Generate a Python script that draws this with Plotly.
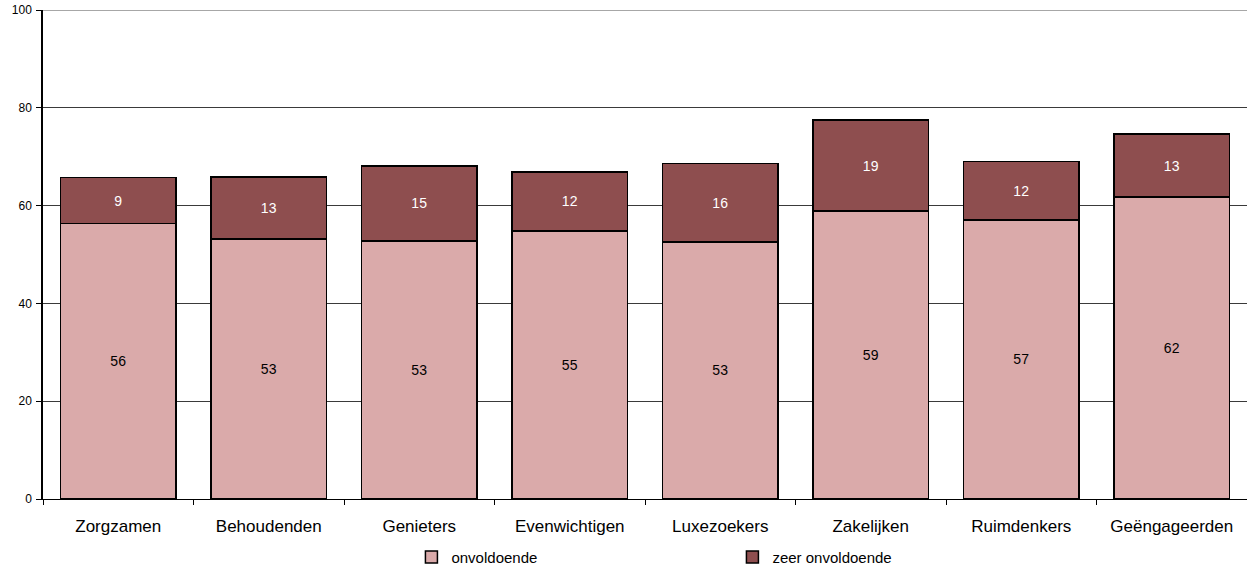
import plotly.graph_objects as go

# Segment names and their shares per group (percent)
groups = ["Zorgzamen", "Behoudenden", "Genieters", "Evenwichtigen",
          "Luxezoekers", "Zakelijken", "Ruimdenkers", "Geëngageerden"]
onvoldoende = [56.3, 53.2, 52.8, 54.8, 52.6, 58.9, 57.1, 61.8]
zeer_onvoldoende = [9.4, 12.6, 15.3, 12.1, 16.0, 18.6, 11.9, 12.8]
y_ticks = [0, 20, 40, 60, 80, 100]

FONT = "Liberation Sans, Arial, sans-serif"

fig = go.Figure()
fig.add_trace(go.Bar(
    name="onvoldoende", x=groups, y=onvoldoende,
    marker=dict(color="#DAAAAA", line=dict(color="#000000", width=1.5)),
    text=onvoldoende, texttemplate="%{text:.0f}",
    textposition="inside", insidetextanchor="middle",
    textfont=dict(family=FONT, size=14, color="#000000"),
    cliponaxis=False,
))
fig.add_trace(go.Bar(
    name="zeer onvoldoende", x=groups, y=zeer_onvoldoende,
    marker=dict(color="#8E4E4F", line=dict(color="#000000", width=1.5)),
    text=zeer_onvoldoende, texttemplate="%{text:.0f}",
    textposition="inside", insidetextanchor="middle",
    textfont=dict(family=FONT, size=14, color="#FFFFFF"),
    cliponaxis=False,
))

# top border line of the value range
fig.add_shape(type="line", xref="paper", yref="y", x0=0, x1=1, y0=100, y1=100,
              line=dict(color="#8A8A8A", width=1.5), layer="below")

fig.update_layout(
    barmode="stack",
    bargap=0.23,
    width=1247, height=569,
    margin=dict(l=43, r=0, t=10, b=70, autoexpand=False),
    paper_bgcolor="#FFFFFF", plot_bgcolor="#FFFFFF",
    font=dict(family=FONT, size=13, color="#000000"),
    showlegend=True,
    legend=dict(
        orientation="h", x=0.306, xanchor="left", y=-0.119, yanchor="middle",
        font=dict(family=FONT, size=15, color="#000000"),
        entrywidth=276, entrywidthmode="pixels",
        traceorder="normal", bgcolor="rgba(0,0,0,0)",
    ),
    xaxis=dict(
        type="category", tickson="boundaries", automargin=False,
        showline=True, linecolor="#000000", linewidth=1,
        ticks="outside", ticklen=5, tickcolor="#000000",
        tickfont=dict(family=FONT, size=17, color="#000000"),
        ticklabelstandoff=12,
        showgrid=False, zeroline=False,
    ),
    yaxis=dict(
        range=[0, 100], tickvals=y_ticks, automargin=False,
        showline=True, linecolor="#000000", linewidth=1.5,
        ticks="outside", ticklen=5, tickcolor="#000000",
        tickfont=dict(family=FONT, size=12, color="#000000"),
        ticklabelstandoff=2,
        showgrid=True, gridcolor="#3A3A3A", gridwidth=1,
        zeroline=False,
    ),
)

fig.write_html("out.html")
